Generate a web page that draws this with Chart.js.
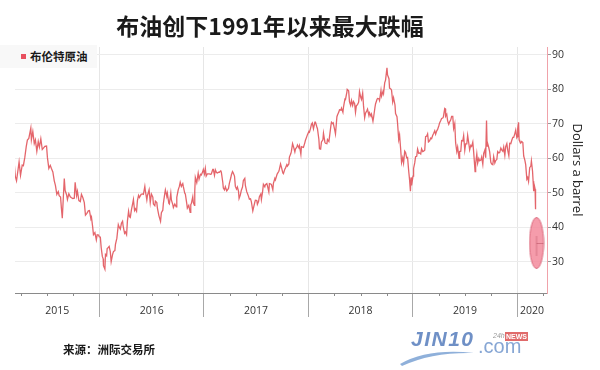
<!DOCTYPE html>
<html>
<head>
<meta charset="utf-8">
<script src="https://cdn.jsdelivr.net/npm/chart.js@4.4.1/dist/chart.umd.min.js"></script>
<style>
  body { margin:0; width:600px; height:370px; position:relative; overflow:hidden; background:#fff; }
  #c { position:absolute; left:0; top:0; }
  .cjk { font-family:"Noto Sans CJK SC", sans-serif; font-weight:700; color:#1a1a1a; position:absolute; white-space:nowrap; }
  #title { left:0; width:540px; top:10px; font-size:23px; line-height:30px; text-align:center; }
  #legendBox { position:absolute; left:0; top:45px; width:97px; height:23px; background:#f8f8f8; }
  #legendBox .sw { position:absolute; left:21px; top:9px; width:5px; height:5px; background:#e8505f; }
  #legendBox .cjk { left:30px; top:3px; font-size:11.5px; line-height:16px; }
  #source { left:63px; top:340px; font-size:11.5px; line-height:18px; }
  #logo { position:absolute; left:398px; top:326px; width:140px; height:42px; }
  #logo .jin { position:absolute; left:13px; top:1px; font:italic bold 21px "Liberation Sans", sans-serif; letter-spacing:1.5px; color:#6f90c6; }
  #logo .com { position:absolute; left:80px; top:9px; font:20px "Liberation Sans", sans-serif; color:#86a6d4; }
  #logo .h24 { position:absolute; left:95px; top:6px; font:italic 7px "Liberation Sans", sans-serif; color:#999; }
  #logo .news { position:absolute; left:107px; top:6px; padding:0 1px; font:bold 7px/9px "Liberation Sans", sans-serif; color:#fff; background:#e06a6a; }
  #logo svg { position:absolute; left:0; top:0; }
</style>
</head>
<body>
<canvas id="c" width="600" height="370"></canvas>
<div id="title" class="cjk">布油创下1991年以来最大跌幅</div>
<div id="legendBox"><span class="sw"></span><span class="cjk">布伦特原油</span></div>
<div id="source" class="cjk">来源：洲际交易所</div>
<div id="logo">
  <svg width="140" height="42"><path d="M2 38 Q30 22 76 27 Q34 26 4 40 Z" fill="#8fb0da"/></svg>
  <span class="jin">JIN10</span><span class="com">.com</span><span class="h24">24h</span><span class="news">NEWS</span>
</div>
<script>
// Brent crude, [month-day, USD/bbl]
const brent2015 = [['03-09',58.5],['03-13',54.7],['03-17',53.5],['03-20',55.3],['03-26',59.0],['03-31',55.1],['04-06',58.1],['04-10',57.9],['04-15',60.3],['04-20',63.4],['04-24',65.3],['04-29',65.8],['05-06',68.8],['05-08',65.4],['05-13',67.8],['05-18',64.3],['05-22',65.4],['05-27',62.1],['06-01',64.9],['06-05',63.3],['06-10',65.7],['06-15',62.6],['06-19',63.0],['06-24',63.5],['06-30',63.6],['07-03',60.3],['07-08',57.1],['07-13',58.0],['07-17',57.1],['07-22',56.1],['07-27',53.5],['07-31',52.2],['08-05',49.6],['08-10',50.4],['08-13',49.2],['08-18',48.8],['08-21',45.5],['08-24',42.7],['08-27',47.6],['08-31',54.2],['09-03',50.7],['09-08',49.5],['09-11',48.1],['09-16',49.8],['09-21',48.9],['09-25',48.6],['09-30',48.4],['10-05',48.5],['10-08',53.1],['10-13',49.2],['10-16',50.5],['10-21',47.8],['10-26',47.5],['10-30',49.6],['11-04',48.6],['11-09',47.2],['11-13',43.6],['11-18',44.1],['11-23',44.8],['11-27',44.9],['12-02',42.5],['12-04',43.0],['12-08',40.3],['12-11',37.9],['12-16',38.5],['12-21',36.4],['12-24',37.9],['12-29',37.8],['12-31',37.3]];
const brent2016 = [['01-04',37.2],['01-07',34.2],['01-11',31.6],['01-14',30.9],['01-15',28.9],['01-20',27.9],['01-22',32.2],['01-26',31.8],['01-28',33.9],['02-01',34.2],['02-04',34.5],['02-08',32.9],['02-11',30.1],['02-16',32.2],['02-19',33.0],['02-24',33.3],['02-26',35.1],['03-02',36.9],['03-07',40.8],['03-10',40.1],['03-14',39.5],['03-18',41.2],['03-22',41.8],['03-24',40.4],['03-29',38.3],['04-01',38.7],['04-05',37.9],['04-08',41.9],['04-12',44.7],['04-15',43.1],['04-18',42.9],['04-22',45.1],['04-27',47.2],['04-29',48.1],['05-03',44.9],['05-06',45.4],['05-10',44.7],['05-13',47.8],['05-17',49.3],['05-20',48.7],['05-26',49.6],['05-31',49.7],['06-03',49.6],['06-08',51.9],['06-10',50.5],['06-15',48.0],['06-17',49.2],['06-23',50.9],['06-27',47.2],['07-01',49.7],['07-06',48.8],['07-08',46.8],['07-13',46.3],['07-15',47.6],['07-20',47.2],['07-22',45.7],['07-27',43.5],['08-02',41.8],['08-05',44.3],['08-10',45.0],['08-12',47.0],['08-17',49.9],['08-19',50.9],['08-24',49.0],['08-26',49.9],['08-31',47.0],['09-02',46.8],['09-07',49.9],['09-09',48.0],['09-14',46.6],['09-16',45.8],['09-21',46.8],['09-26',46.0],['09-28',48.7],['10-03',50.9],['10-07',51.9],['10-10',53.1],['10-14',51.9],['10-19',52.7],['10-21',51.8],['10-26',49.9],['10-28',49.7],['11-02',46.9],['11-04',45.6],['11-09',46.4],['11-14',44.4],['11-16',46.6],['11-18',46.9],['11-23',48.9],['11-25',47.2],['11-29',46.4],['11-30',50.5],['12-02',54.5],['12-07',53.0],['12-12',55.7],['12-15',54.0],['12-20',55.4],['12-23',55.2],['12-28',56.2],['12-30',56.8]];
const brent2017 = [['01-03',55.5],['01-06',57.1],['01-09',54.9],['01-13',55.5],['01-17',55.5],['01-20',55.5],['01-24',55.4],['01-27',55.5],['02-01',56.8],['02-03',56.8],['02-07',55.1],['02-10',56.7],['02-14',55.9],['02-17',55.8],['02-22',56.0],['02-24',56.0],['03-01',56.4],['03-03',56.0],['03-08',53.1],['03-10',51.4],['03-14',50.9],['03-17',51.8],['03-22',50.6],['03-24',50.8],['03-28',51.3],['03-31',52.8],['04-05',54.4],['04-07',55.2],['04-11',56.2],['04-13',55.9],['04-18',54.9],['04-21',51.9],['04-25',51.1],['04-28',51.7],['05-02',50.5],['05-04',48.4],['05-08',49.3],['05-12',50.8],['05-16',51.7],['05-19',53.6],['05-24',54.2],['05-26',52.2],['05-31',50.3],['06-02',49.9],['06-06',49.0],['06-09',48.2],['06-13',48.3],['06-16',47.4],['06-21',44.8],['06-23',45.5],['06-28',47.3],['06-30',47.9],['07-05',47.8],['07-07',46.7],['07-11',47.5],['07-14',48.9],['07-19',49.7],['07-21',48.1],['07-25',50.2],['07-28',52.5],['08-02',51.8],['08-04',52.4],['08-09',52.7],['08-11',52.1],['08-16',50.3],['08-18',52.7],['08-23',52.6],['08-25',52.4],['08-30',50.9],['09-01',52.8],['09-06',54.2],['09-08',53.8],['09-13',55.2],['09-15',55.6],['09-20',56.3],['09-22',56.9],['09-26',58.4],['09-29',57.5],['10-04',55.8],['10-06',55.6],['10-11',56.9],['10-13',57.2],['10-18',58.2],['10-20',57.8],['10-25',58.4],['10-27',60.4],['11-01',61.4],['11-03',62.1],['11-07',64.3],['11-10',63.5],['11-15',61.9],['11-17',62.7],['11-22',63.3],['11-24',63.9],['11-29',63.1],['12-01',63.7],['12-06',61.2],['12-08',63.4],['12-12',63.3],['12-15',63.2],['12-20',64.6],['12-22',65.3],['12-27',66.4],['12-29',66.9]];
const brent2018 = [['01-03',67.8],['01-05',67.6],['01-09',68.8],['01-12',69.9],['01-15',70.3],['01-19',68.6],['01-24',70.5],['01-26',70.5],['01-31',69.1],['02-02',68.6],['02-07',65.5],['02-09',62.8],['02-13',62.7],['02-16',64.8],['02-21',65.4],['02-23',67.3],['02-28',64.7],['03-02',64.4],['03-07',64.3],['03-09',65.5],['03-14',64.9],['03-16',66.2],['03-21',69.5],['03-23',70.5],['03-27',70.1],['03-29',70.3],['04-04',68.0],['04-06',67.1],['04-11',72.1],['04-13',72.6],['04-18',73.5],['04-20',74.1],['04-25',74.0],['04-27',74.6],['05-02',73.4],['05-04',74.9],['05-09',77.2],['05-11',77.1],['05-16',79.3],['05-17',80.0],['05-22',79.6],['05-25',76.4],['05-29',75.4],['06-01',76.8],['06-05',75.4],['06-08',76.5],['06-12',75.9],['06-15',73.4],['06-18',75.3],['06-22',75.6],['06-26',76.3],['06-29',79.4],['07-03',77.8],['07-06',77.1],['07-10',78.9],['07-13',75.3],['07-17',71.8],['07-20',73.1],['07-25',73.9],['07-27',74.3],['08-01',72.4],['08-03',73.2],['08-08',72.3],['08-10',72.8],['08-15',70.8],['08-17',71.8],['08-22',74.8],['08-24',75.8],['08-29',77.1],['08-31',77.4],['09-05',77.3],['09-07',76.8],['09-12',79.7],['09-14',78.1],['09-19',79.4],['09-21',78.8],['09-25',81.9],['09-28',82.7],['10-03',86.3],['10-05',84.2],['10-10',83.1],['10-12',80.4],['10-17',80.1],['10-19',79.8],['10-23',76.4],['10-26',77.6],['10-31',75.5],['11-02',73.0],['11-07',72.1],['11-09',70.2],['11-13',65.5],['11-16',66.8],['11-20',62.5],['11-23',58.8],['11-27',60.2],['11-30',58.7],['12-04',62.1],['12-07',61.7],['12-11',60.2],['12-14',60.3],['12-18',56.3],['12-21',53.8],['12-24',50.5],['12-26',54.5],['12-28',52.2],['12-31',53.8]];
const brent2019 = [['01-02',54.9],['01-04',57.1],['01-08',58.7],['01-11',60.5],['01-15',60.6],['01-18',62.7],['01-22',61.5],['01-25',61.6],['01-29',61.3],['02-01',62.8],['02-05',62.0],['02-08',62.1],['02-12',62.4],['02-15',66.3],['02-19',66.5],['02-22',67.1],['02-25',64.8],['03-01',65.1],['03-05',65.9],['03-08',65.7],['03-12',66.7],['03-15',67.2],['03-19',68.0],['03-22',67.0],['03-26',68.0],['03-29',68.4],['04-02',69.4],['04-05',70.3],['04-09',71.0],['04-12',71.6],['04-16',71.7],['04-18',72.0],['04-23',74.5],['04-25',74.4],['04-26',72.2],['04-30',72.8],['05-03',70.9],['05-07',69.9],['05-10',70.6],['05-14',71.2],['05-17',72.2],['05-21',72.2],['05-24',68.7],['05-28',70.1],['05-31',64.5],['06-04',62.0],['06-07',63.3],['06-12',60.0],['06-14',62.0],['06-18',62.1],['06-21',65.2],['06-25',65.1],['06-28',66.6],['07-02',62.4],['07-05',64.2],['07-09',64.2],['07-12',66.7],['07-16',64.4],['07-19',62.5],['07-23',63.8],['07-26',63.5],['07-30',64.7],['08-02',61.9],['08-07',56.2],['08-09',58.5],['08-13',61.3],['08-16',58.6],['08-20',60.0],['08-23',59.3],['08-27',59.5],['08-30',60.4],['09-03',58.3],['09-06',61.5],['09-10',62.4],['09-13',60.2],['09-16',71.0],['09-18',63.6],['09-20',64.3],['09-24',63.1],['09-27',61.9],['10-01',58.9],['10-04',58.4],['10-08',58.2],['10-11',60.5],['10-15',58.7],['10-18',59.4],['10-22',59.7],['10-25',62.0],['10-29',61.6],['11-01',61.7],['11-05',63.0],['11-08',62.5],['11-12',62.1],['11-15',63.3],['11-19',60.9],['11-22',63.4],['11-26',64.3],['11-29',62.4],['12-03',60.8],['12-06',64.4],['12-10',64.3],['12-13',65.2],['12-17',66.1],['12-20',66.1],['12-24',67.2],['12-27',68.2],['12-31',66.0]];
const brent2020 = [['01-02',66.3],['01-03',68.6],['01-06',70.5],['01-08',65.4],['01-10',65.0],['01-14',64.5],['01-17',64.9],['01-21',64.6],['01-24',60.7],['01-28',59.5],['01-31',58.2],['02-04',54.0],['02-07',54.5],['02-10',53.3],['02-14',57.3],['02-18',57.8],['02-20',59.3],['02-24',56.3],['02-26',53.4],['02-28',50.5],['03-02',51.9],['03-04',51.1],['03-05',50.0],['03-06',45.3]];
// highlighted crash day
const crashDay = [['2020', '03-09', 35.5]];

const yearLabels = ['2015', '2016', '2017', '2018', '2019', '2020'];
const yTicks = [30, 40, 50, 60, 70, 80, 90];
const xMin = 2015.191, xMax = 2020.286;

function toYear(y, md) {
  const [m, d] = md.split('-').map(Number);
  const s = Date.UTC(y, 0, 1), e = Date.UTC(y + 1, 0, 1);
  return y + (Date.UTC(y, m - 1, d) - s) / (e - s);
}

const series = [brent2015, brent2016, brent2017, brent2018, brent2019, brent2020];
const points = series.flatMap((arr, i) => arr.map(([md, v]) => ({x: toYear(2015 + i, md), y: v})));
const crashPts = crashDay.map(([y, md, v]) => ({x: toYear(+y, md), y: v}));

// year boundaries, mid-year label spots, quarter ticks
const years = yearLabels.map(Number);
const bounds = years.slice(1);
const labelAt = {};
years.forEach(y => { labelAt[((Math.max(y, xMin) + Math.min(y + 1, xMax)) / 2).toFixed(4)] = String(y); });
const quarters = [];
years.forEach(y => [0.25, 0.5, 0.75].forEach(q => { if (y + q > xMin && y + q < xMax) quarters.push(y + q); }));
const isBound = v => bounds.some(b => Math.abs(b - v) < 1e-6);

// the pink ellipse marker
const mark = document.createElement('canvas');
mark.width = 16; mark.height = 54;
(function () {
  const g = mark.getContext('2d');
  g.beginPath();
  g.ellipse(8, 27, 7, 25.5, 0, 0, Math.PI * 2);
  g.fillStyle = 'rgba(243,134,152,0.82)';
  g.fill();
  g.strokeStyle = 'rgba(214,90,112,0.85)';
  g.lineWidth = 1;
  g.stroke();
  g.strokeStyle = 'rgba(170,60,80,0.55)';
  g.lineWidth = 0.8;
  g.beginPath();
  g.moveTo(8, 20); g.lineTo(8, 40);
  g.moveTo(8, 27.5); g.lineTo(15, 27.5);
  g.stroke();
})();

const minorTicks = {
  id: 'minorTicks',
  afterDraw(chart) {
    const s = chart.scales.x, c = chart.ctx;
    c.save();
    c.strokeStyle = '#8a8a8a';
    c.lineWidth = 1;
    c.beginPath();
    quarters.forEach(q => {
      const px = Math.round(s.getPixelForValue(q)) + 0.5;
      c.moveTo(px, s.top); c.lineTo(px, s.top + 3);
    });
    c.stroke();
    c.restore();
  }
};

const tickFont = {family: '"Open Sans", sans-serif', size: 10.5};

new Chart(document.getElementById('c'), {
  data: {
    datasets: [
      {
        type: 'scatter',
        data: crashPts,
        pointStyle: mark,
        order: 0
      },
      {
        type: 'line',
        data: points,
        borderColor: 'rgba(224,80,86,0.88)',
        borderWidth: 1.3,
        pointRadius: 0,
        tension: 0,
        order: 1
      }
    ]
  },
  options: {
    responsive: false,
    animation: false,
    events: [],
    layout: {padding: {left: 15, top: 47, right: 15, bottom: 47}},
    plugins: {legend: {display: false}, tooltip: {enabled: false}},
    scales: {
      x: {
        type: 'linear',
        min: xMin,
        max: xMax,
        afterBuildTicks: s => {
          s.ticks = bounds.concat(Object.keys(labelAt).map(Number)).sort((a, b) => a - b).map(v => ({value: v}));
        },
        afterFit: s => { s.height = 30; },
        grid: {
          color: ctx => (ctx.tick && isBound(ctx.tick.value)) ? '#e6e6e6' : 'rgba(0,0,0,0)',
          tickColor: ctx => (ctx.tick && isBound(ctx.tick.value)) ? '#a8a8a8' : 'rgba(0,0,0,0)',
          tickLength: 24
        },
        border: {color: '#8a8a8a'},
        ticks: {
          autoSkip: false,
          maxRotation: 0,
          padding: -12,
          color: '#333',
          font: tickFont,
          callback: v => labelAt[Number(v).toFixed(4)] || ''
        }
      },
      y: {
        position: 'right',
        min: 21,
        max: 92.3,
        afterBuildTicks: s => { s.ticks = yTicks.map(v => ({value: v})); },
        afterFit: s => { s.width = 38; },
        grid: {color: '#ececec', tickColor: '#9a9a9a', tickLength: 4},
        border: {color: '#f0a2aa'},
        ticks: {padding: 1, color: '#333', font: tickFont},
        title: {
          display: true,
          text: 'Dollars a barrel',
          color: '#222',
          padding: 0,
          font: {family: '"Open Sans", sans-serif', size: 13}
        }
      }
    }
  },
  plugins: [minorTicks]
});
</script>
</body>
</html>
